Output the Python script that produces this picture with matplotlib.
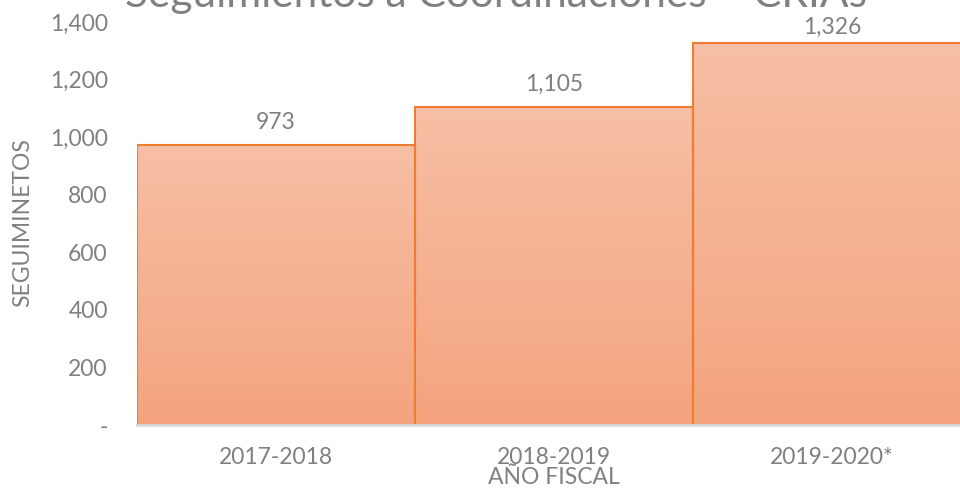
import numpy as np
import matplotlib.pyplot as plt
from matplotlib.ticker import FuncFormatter
from matplotlib.colors import LinearSegmentedColormap

# Datos
periodos = ['2017-2018', '2018-2019', '2019-2020*']
seguimientos = [973, 1105, 1326]
y_ticks = [0, 200, 400, 600, 800, 1000, 1200, 1400]

gris = '#808080'
borde = '#ED7D31'
plt.rcParams['font.family'] = ['Lato', 'DejaVu Sans']

fig = plt.figure(figsize=(9.6, 4.88), dpi=100)
ax = fig.add_axes([137 / 960, 63 / 488, 834 / 960, 403 / 488])

x = np.arange(len(periodos))
bars = ax.bar(x, seguimientos, width=1.0, color='none', edgecolor=borde,
              linewidth=1.5, zorder=3)

# relleno degradado de cada barra
grad = np.linspace(0, 1, 256).reshape(-1, 1)
cmap = LinearSegmentedColormap.from_list('naranja', ['#F4A47E', '#F7BFA5'])
for b in bars:
    im = ax.imshow(grad, cmap=cmap, origin='lower', aspect='auto',
                   extent=[b.get_x(), b.get_x() + b.get_width(), 0, b.get_height()],
                   zorder=2)
    im.set_clip_path(b)

# etiquetas de datos (la ultima queda limitada por el borde superior)
for xi, v in zip(x, seguimientos):
    ax.text(xi, min(v + 56, 1358), f'{v:,}', ha='center', va='baseline',
            fontsize=16.5, color=gris)

ax.set_xlim(-0.5, 2.5)
ax.set_ylim(0, 1400)
ax.set_yticks(y_ticks)
ax.yaxis.set_major_formatter(FuncFormatter(lambda v, p: '-' if v == 0 else f'{int(v):,}'))
ax.set_xticks(x)
ax.set_xticklabels(periodos)
ax.tick_params(axis='both', length=0, labelsize=16.5, labelcolor=gris)
ax.tick_params(axis='y', pad=21)
ax.tick_params(axis='x', pad=16)
for s in ['top', 'right', 'left']:
    ax.spines[s].set_visible(False)
ax.spines['bottom'].set_color('#D9D9D9')
ax.spines['bottom'].set_linewidth(2)
ax.spines['bottom'].set_zorder(4)

fig.text(554 / 960, 1 - 484 / 488, 'AÑO FISCAL', ha='center', va='baseline',
         fontsize=16.5, color=gris)
fig.text(23 / 960, 1 - 223 / 488, 'SEGUIMINETOS', rotation=90, ha='center', va='center',
         fontsize=16.5, color=gris)
fig.text(496 / 960, 1 - 7 / 488, 'Seguimientos a Coordinaciones – CRIAs', ha='center',
         va='baseline', fontsize=30.5, color=gris)

fig.savefig('out.png', dpi=100)
